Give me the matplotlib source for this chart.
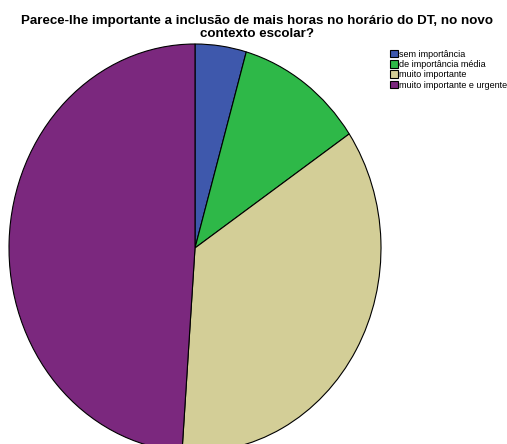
import matplotlib
matplotlib.use("Agg")
import matplotlib.pyplot as plt

categories = ["sem importância", "de importância média", "muito importante",
              "muito importante e urgente"]
counts = [2, 5, 16, 22]
colors = ["#3E58AC", "#2EB848", "#D3CE97", "#7B287E"]

title = "Parece-lhe importante a inclusão de mais horas no horário do DT, no novo\ncontexto escolar?"

plt.rcParams['font.family'] = ['Liberation Sans', 'DejaVu Sans']

W, H = 507, 444
fig = plt.figure(figsize=(W / 100, H / 100), dpi=100)

# pie area (stretched a bit vertically, bottom runs off the figure)
cx, cy, rx, ry = 195, 248, 186, 204
ax = fig.add_axes([(cx - rx) / W, (H - cy - ry) / H, 2 * rx / W, 2 * ry / H])
wedges, _ = ax.pie(counts, colors=colors, startangle=90, counterclock=False,
                   wedgeprops=dict(edgecolor="black", linewidth=0.8),
                   normalize=True)
ax.set_aspect('auto')
ax.set_xlim(-1, 1)
ax.set_ylim(-1, 1)
ax.axis("off")

fig.text(257 / W, 1 - 15 / H, title, ha="center", va="top", fontsize=9.6,
         fontweight="bold", linespacing=1.1)

fig.legend(wedges, categories, loc="upper left",
           bbox_to_anchor=(386 / W, 1 - 46 / H), frameon=False,
           fontsize=6.5, handlelength=0.9, handleheight=0.9,
           handletextpad=0.15, labelspacing=0.15, borderaxespad=0)

fig.savefig("out.png", dpi=100)
